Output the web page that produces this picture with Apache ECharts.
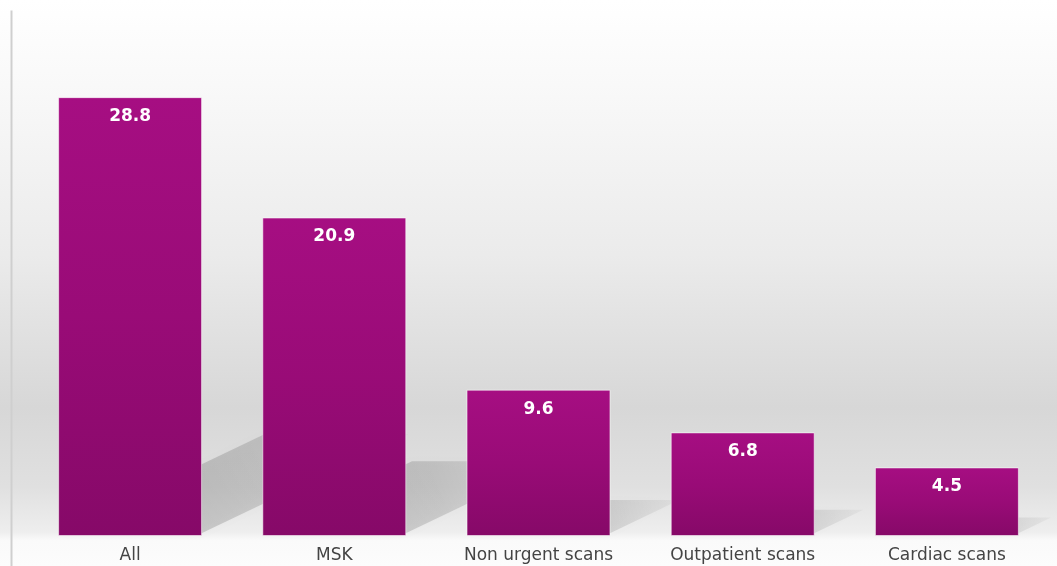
<!DOCTYPE html>
<html>
<head>
<meta charset="utf-8">
<script src="https://cdn.jsdelivr.net/npm/echarts@6/dist/echarts.min.js"></script>
<style>html,body{margin:0;padding:0;background:#fff}#c{width:1057px;height:566px}</style>
</head>
<body>
<div id="c"></div>
<script>
const categories = ['All', 'MSK', 'Non urgent scans', 'Outpatient scans', 'Cardiac scans'];
const values = [28.8, 20.9, 9.6, 6.8, 4.5];

const chart = echarts.init(document.getElementById('c'));
const barFrac = 0.705;

chart.setOption({
  animation: false,
  backgroundColor: {
    type: 'linear', x: 0, y: 0, x2: 0, y2: 1,
    colorStops: [
      {offset: 0, color: '#ffffff'},
      {offset: 0.15, color: '#f9f9f9'},
      {offset: 0.45, color: '#ebebeb'},
      {offset: 0.72, color: '#d7d7d7'},
      {offset: 0.86, color: '#e0e0e0'},
      {offset: 0.94, color: '#eeeeee'},
      {offset: 0.955, color: '#fafafa'},
      {offset: 1, color: '#fcfcfc'}
    ]
  },
  graphic: [{
    type: 'line', left: 9, top: 8,
    shape: {x1: 0, y1: 0, x2: 0, y2: 560},
    style: {stroke: '#cfcfcf', lineWidth: 2}
  }],
  grid: {left: 28, right: 8, top: 8, bottom: 30},
  xAxis: {
    type: 'category',
    data: categories,
    axisLine: {show: false},
    axisTick: {show: false},
    axisLabel: {color: '#444444', fontSize: 17, fontFamily: 'DejaVu Sans', margin: 11}
  },
  yAxis: {
    type: 'value', min: 0, max: 34.65,
    axisLine: {show: false}, axisTick: {show: false},
    axisLabel: {show: false}, splitLine: {show: false}
  },
  series: [
    {
      type: 'custom',
      z: 1,
      silent: true,
      data: values.map((v, i) => [i, v]),
      renderItem: function (params, api) {
        const v = api.value(1);
        const base = api.coord([api.value(0), 0]);
        const top = api.coord([api.value(0), v]);
        const bw = api.size([1, 0])[0] * barFrac;
        const h = base[1] - top[1];
        const dy = 0.225 * h, dx = 0.47 * h;
        const xL = base[0] - bw / 2, xR = base[0] + bw / 2, yB = base[1] - 3;
        return {
          type: 'polygon',
          shape: {points: [[xL, yB], [xR, yB], [xR + dx, yB - dy], [xL + dx, yB - dy]]},
          style: {
            fill: {
              type: 'linear', x: 0, y: 1, x2: 1, y2: 0,
              colorStops: [
                {offset: 0, color: 'rgba(0,0,0,0.2)'},
                {offset: 0.6, color: 'rgba(0,0,0,0.13)'},
                {offset: 1, color: 'rgba(0,0,0,0.03)'}
              ]
            },
            shadowBlur: 10,
            shadowColor: 'rgba(0,0,0,0.12)'
          }
        };
      }
    },
    {
      type: 'bar',
      z: 3,
      data: values,
      barWidth: (barFrac * 100) + '%',
      itemStyle: {
        color: {
          type: 'linear', x: 0, y: 0, x2: 0, y2: 1,
          colorStops: [
            {offset: 0, color: '#a60e82'},
            {offset: 0.5, color: '#990b77'},
            {offset: 1, color: '#860968'}
          ]
        },
        borderColor: 'rgba(255,255,255,0.55)',
        borderWidth: 1
      },
      label: {
        show: true, position: 'insideTop', distance: 11,
        color: '#ffffff', fontWeight: 'bold', fontSize: 17, fontFamily: 'DejaVu Sans',
        formatter: p => p.value.toFixed(1)
      }
    }
  ]
});
</script>
</body>
</html>
